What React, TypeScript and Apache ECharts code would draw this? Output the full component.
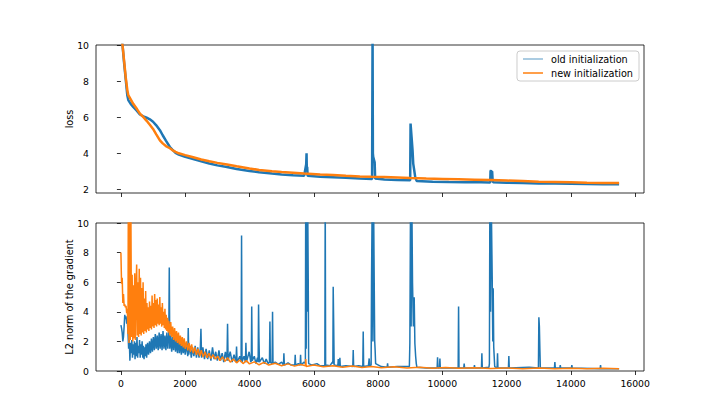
import React, { useEffect, useRef } from "react";
import * as echarts from "echarts";

// ---- data ----
const xTicks = [0, 2000, 4000, 6000, 8000, 10000, 12000, 14000, 16000];
const lossTicks = [2, 4, 6, 8, 10];
const gradTicks = [0, 2, 4, 6, 8, 10];

const lossOld = [
  [0, 10.9], [50, 10.0], [100, 9.0], [150, 8.1], [200, 7.2], [230, 6.95], [300, 6.75], [383, 6.57],
  [500, 6.35], [591, 6.15], [700, 6.05], [800, 5.97], [900, 5.88], [1000, 5.75], [1100, 5.55],
  [1213, 5.28], [1300, 5.0], [1400, 4.7], [1524, 4.35], [1600, 4.2], [1700, 4.02], [1800, 3.93],
  [2000, 3.8], [2250, 3.68], [2500, 3.55], [2750, 3.43], [3000, 3.33], [3300, 3.24], [3600, 3.13],
  [4000, 3.02], [4300, 2.95], [4700, 2.88], [5000, 2.83], [5355, 2.78], [5700, 2.75], [5765, 3.4],
  [5776, 4.0], [5785, 3.0], [5795, 3.25], [5810, 2.75], [6200, 2.7], [6600, 2.67], [7000, 2.64],
  [7435, 2.6], [7815, 2.58], [7830, 10.8], [7840, 4.0], [7850, 3.8], [7880, 3.6], [7895, 3.5],
  [7910, 2.6], [8200, 2.55], [8600, 2.52], [9000, 2.5], [9012, 5.65], [9043, 4.91], [9074, 4.17],
  [9095, 3.43], [9126, 3.06], [9157, 2.68], [9200, 2.47], [9700, 2.43], [10200, 2.41], [10700, 2.4],
  [11200, 2.39], [11490, 2.38], [11500, 3.0], [11515, 3.06], [11530, 2.95], [11550, 3.0], [11565, 2.5],
  [11580, 2.4], [12000, 2.37], [12500, 2.35], [13000, 2.33], [13500, 2.32], [14000, 2.31],
  [14500, 2.3], [15000, 2.29], [15500, 2.28],
];

const lossNew = [
  [0, 10.7], [50, 10.0], [100, 9.1], [150, 8.2], [200, 7.5], [230, 7.22], [300, 7.0], [383, 6.74],
  [500, 6.45], [591, 6.2], [700, 6.0], [800, 5.8], [900, 5.58], [1000, 5.35], [1100, 5.05],
  [1213, 4.72], [1300, 4.55], [1400, 4.4], [1524, 4.28], [1600, 4.18], [1700, 4.08], [1800, 4.0],
  [2000, 3.9], [2250, 3.78], [2500, 3.66], [2750, 3.56], [3000, 3.47], [3300, 3.38], [3600, 3.28],
  [4000, 3.16], [4300, 3.08], [4700, 3.0], [5000, 2.96], [5355, 2.92], [5700, 2.88], [6200, 2.83],
  [6600, 2.8], [7000, 2.76], [7435, 2.72], [7800, 2.7], [8200, 2.68], [8600, 2.66], [9000, 2.63],
  [9500, 2.6], [10000, 2.58], [10500, 2.56], [11000, 2.54], [11500, 2.52], [12000, 2.49],
  [12500, 2.46], [13000, 2.43], [13500, 2.41], [14000, 2.39], [14500, 2.37], [15000, 2.36],
  [15500, 2.35],
];

const gradOld = [
  [0, 3.1], [20, 2.9], [40, 2.6], [60, 2.0], [80, 2.3], [100, 3.0], [120, 3.8], [140, 3.5],
  [160, 3.7], [180, 3.2], [200, 3.4], [220, 2.6], [240, 1.5], [260, 2.2], [280, 0.7], [300, 1.9],
  [320, 1.2], [340, 2.1], [360, 0.9], [380, 1.8], [400, 1.1], [420, 2.0], [440, 0.8], [460, 1.9],
  [480, 1.0], [500, 2.3], [520, 0.9], [540, 1.7], [560, 1.2], [580, 2.1], [600, 0.9], [620, 1.8],
  [640, 1.1], [660, 2.0], [680, 0.9], [700, 1.7], [720, 0.8], [740, 1.6], [760, 1.0], [780, 1.8],
  [800, 0.9], [830, 1.9], [860, 1.1], [890, 2.0], [920, 1.2], [950, 2.2], [980, 1.3], [1010, 2.3],
  [1040, 1.4], [1070, 2.5], [1100, 1.5], [1130, 2.4], [1160, 1.4], [1190, 2.6], [1220, 1.5],
  [1250, 2.5], [1280, 1.4], [1310, 2.7], [1340, 1.5], [1370, 2.4], [1400, 1.4], [1430, 2.6],
  [1460, 1.5], [1490, 2.5], [1505, 7.0], [1520, 1.5], [1550, 2.4], [1580, 1.3], [1610, 2.3],
  [1640, 1.4], [1670, 2.5], [1700, 1.3], [1730, 2.2], [1760, 1.2], [1790, 2.3], [1820, 1.2],
  [1850, 2.1], [1880, 1.1], [1910, 2.0], [1940, 1.2], [1970, 1.9], [2000, 1.1], [2040, 1.8],
  [2080, 1.0], [2095, 2.9], [2110, 1.1], [2150, 1.7], [2190, 0.9], [2230, 1.6], [2270, 1.0],
  [2310, 1.7], [2350, 0.9], [2390, 1.6], [2430, 0.9], [2470, 1.5], [2490, 2.85], [2510, 0.9],
  [2550, 1.6], [2600, 0.8], [2650, 1.5], [2700, 0.8], [2750, 1.4], [2800, 0.7], [2850, 1.6],
  [2900, 0.8], [2950, 1.3], [3000, 0.7], [3050, 1.4], [3100, 0.7], [3150, 1.2], [3200, 0.6],
  [3250, 1.3], [3300, 0.7], [3318, 3.2], [3335, 0.7], [3400, 1.3], [3460, 0.6], [3520, 1.1],
  [3580, 0.6], [3598, 1.65], [3615, 0.6], [3700, 1.0], [3740, 0.6], [3754, 9.15], [3768, 0.6],
  [3830, 1.0], [3875, 0.6], [3889, 1.9], [3905, 0.6], [3990, 1.3], [4040, 0.6], [4058, 0.7],
  [4070, 4.35], [4085, 0.7], [4150, 1.0], [4200, 0.5], [4250, 0.9], [4270, 0.6], [4283, 4.5],
  [4295, 2.25], [4310, 0.6], [4400, 0.9], [4460, 0.5], [4520, 0.8], [4580, 0.5], [4622, 0.6],
  [4636, 3.35], [4650, 0.6], [4704, 0.5], [4718, 4.0], [4732, 0.5], [4800, 0.6], [4900, 0.45],
  [5000, 0.6], [5058, 0.4], [5071, 1.2], [5085, 0.4], [5200, 0.55], [5300, 0.4], [5410, 0.4],
  [5423, 1.1], [5436, 0.4], [5520, 0.5], [5577, 0.4], [5590, 1.1], [5603, 0.4], [5700, 0.6],
  [5740, 0.5], [5750, 12], [5765, 1.5], [5780, 12], [5800, 4.0], [5810, 12], [5827, 6.6],
  [5842, 0.5], [5950, 0.4], [6100, 0.5], [6200, 0.35], [6345, 0.35], [6357, 12], [6369, 0.4],
  [6500, 0.35], [6580, 0.6], [6595, 0.5], [6605, 5.7], [6620, 3.1], [6635, 0.4], [6750, 0.35],
  [6762, 0.8], [6775, 0.35], [6800, 0.35], [6813, 0.9], [6826, 0.3], [7000, 0.35], [7215, 0.3],
  [7228, 1.42], [7241, 0.3], [7400, 0.35], [7526, 0.3], [7539, 2.66], [7552, 0.3], [7700, 0.35],
  [7712, 0.35], [7725, 0.85], [7738, 0.35], [7785, 0.4], [7798, 6.26], [7820, 12], [7840, 2.0],
  [7860, 12], [7880, 12], [7895, 2.1], [7910, 1.4], [7925, 0.5], [8100, 0.3], [8284, 0.25],
  [8297, 0.52], [8310, 0.25], [8600, 0.3], [8975, 0.3], [8990, 1.87], [9012, 12], [9030, 3.0],
  [9050, 12], [9063, 12], [9073, 5.97], [9100, 3.0], [9125, 4.98], [9146, 1.87], [9170, 1.0],
  [9190, 0.5], [9210, 0.25], [9500, 0.2], [9839, 0.2], [9852, 0.92], [9865, 0.2], [9912, 0.2],
  [9925, 0.85], [9938, 0.2], [10200, 0.2], [10493, 0.2], [10506, 4.35], [10519, 0.2], [10667, 0.2],
  [10680, 0.5], [10693, 0.2], [10987, 0.2], [11000, 0.4], [11013, 0.2], [11218, 0.2], [11231, 1.19],
  [11244, 0.2], [11450, 0.25], [11465, 0.5], [11480, 12], [11500, 4.0], [11520, 12], [11532, 12],
  [11552, 6.37], [11570, 2.0], [11583, 5.59], [11600, 1.6], [11615, 1.6], [11630, 0.3],
  [11705, 0.2], [11718, 1.19], [11731, 0.2], [12057, 0.2], [12070, 1.01], [12083, 0.2],
  [12700, 0.25], [12990, 0.2], [13004, 3.63], [13020, 3.0], [13035, 1.5], [13050, 0.2],
  [13489, 0.2], [13502, 0.6], [13515, 0.2], [13657, 0.2], [13670, 0.4], [13683, 0.2], [14017, 0.2],
  [14030, 0.4], [14043, 0.2], [14910, 0.15], [14923, 0.4], [14936, 0.15], [15500, 0.15],
];

const gradNew = [
  [0, 8.0], [20, 5.9], [40, 6.3], [60, 4.6], [80, 5.2], [100, 4.4], [120, 4.5], [140, 4.3],
  [160, 4.4], [180, 3.9], [200, 4.2], [220, 2.5], [230, 11], [250, 1.9], [270, 12], [290, 2.1],
  [310, 11], [330, 2.3], [350, 6.5], [370, 2.0], [390, 5.8], [410, 2.2], [430, 6.6], [450, 2.1],
  [470, 5.5], [490, 7.2], [510, 2.4], [530, 6.0], [550, 2.3], [570, 6.9], [590, 2.5], [610, 6.3],
  [630, 2.4], [650, 5.6], [670, 2.6], [690, 6.0], [710, 2.5], [730, 4.9], [750, 2.7], [770, 5.4],
  [790, 2.6], [810, 4.6], [830, 2.8], [850, 4.3], [870, 2.7], [890, 4.7], [910, 2.9], [930, 4.4],
  [950, 2.8], [970, 5.1], [990, 3.0], [1010, 4.6], [1030, 2.9], [1050, 5.2], [1070, 3.1],
  [1090, 4.8], [1110, 3.0], [1130, 4.9], [1150, 3.2], [1170, 4.5], [1190, 3.1], [1210, 5.0],
  [1230, 3.2], [1250, 4.3], [1270, 3.0], [1290, 4.6], [1310, 3.1], [1330, 4.0], [1350, 2.9],
  [1370, 4.2], [1390, 2.8], [1410, 3.8], [1430, 2.7], [1450, 3.6], [1470, 2.6], [1490, 3.4],
  [1520, 2.4], [1550, 3.3], [1580, 2.3], [1610, 3.0], [1640, 2.1], [1670, 2.9], [1700, 2.0],
  [1730, 2.7], [1760, 1.9], [1790, 2.6], [1820, 1.8], [1850, 2.4], [1880, 1.7], [1910, 2.3],
  [1940, 1.6], [1970, 2.2], [2000, 1.5], [2040, 2.0], [2080, 1.4], [2120, 1.9], [2160, 1.3],
  [2200, 1.8], [2250, 1.2], [2300, 1.6], [2350, 1.1], [2400, 1.5], [2450, 1.0], [2500, 1.4],
  [2560, 0.95], [2620, 1.3], [2680, 0.9], [2740, 1.2], [2800, 0.85], [2870, 1.1], [2940, 0.8],
  [3010, 1.0], [3080, 0.7], [3160, 0.95], [3240, 0.65], [3320, 0.9], [3400, 0.6], [3500, 0.8],
  [3600, 0.55], [3700, 0.75], [3800, 0.5], [3900, 0.7], [4000, 0.48], [4150, 0.62], [4300, 0.42],
  [4450, 0.58], [4600, 0.4], [4800, 0.52], [5000, 0.36], [5200, 0.48], [5400, 0.33], [5600, 0.44],
  [5740, 0.35], [5750, 0.8], [5765, 0.3], [6000, 0.4], [6300, 0.28], [6600, 0.36], [6900, 0.26],
  [7200, 0.33], [7500, 0.24], [7800, 0.31], [8100, 0.22], [8500, 0.28], [8900, 0.2], [9300, 0.26],
  [9700, 0.19], [10100, 0.24], [10500, 0.18], [11000, 0.22], [11500, 0.17], [12000, 0.21],
  [12500, 0.16], [13000, 0.2], [13500, 0.15], [14000, 0.19], [14500, 0.15], [15000, 0.18],
  [15500, 0.15],
];

const BLUE = "#1f77b4";
const ORANGE = "#ff7f0e";
const FONT = "DejaVu Sans";

export default function App() {
  const ref = useRef<HTMLDivElement>(null);
  useEffect(() => {
    const chart = echarts.init(ref.current!, null, { renderer: "svg" });
    const xAxisBase = (gi: number, labels: boolean) => ({
      type: "value",
      gridIndex: gi,
      min: -775,
      max: 16275,
      axisLine: { show: false },
      splitLine: { show: false },
      axisTick: { show: true, length: 4, customValues: xTicks, lineStyle: { color: "#000", width: 0.8 } },
      axisLabel: {
        show: labels,
        customValues: xTicks,
        formatter: (v: number) => String(v),
        fontSize: 9.3,
        fontFamily: FONT,
        color: "#000",
        margin: 8,
      },
    });
    const yAxisBase = (gi: number, min: number, ticks: number[], name: string) => ({
      type: "value",
      gridIndex: gi,
      min,
      max: 10,
      name,
      nameLocation: "middle",
      nameGap: 22,
      nameMoveOverlap: false,
      nameTextStyle: { fontSize: 9.7, fontFamily: FONT, color: "#000" },
      axisLine: { show: false },
      splitLine: { show: false },
      axisTick: { show: true, length: 4, customValues: ticks, lineStyle: { color: "#000", width: 0.8 } },
      axisLabel: {
        customValues: ticks,
        formatter: (v: number) => String(v),
        fontSize: 9.3,
        fontFamily: FONT,
        color: "#000",
        margin: 7,
      },
    });
    const line = (name: string, data: number[][], color: string, gi: number, width: number) => ({
      type: "line",
      name,
      data,
      xAxisIndex: gi,
      yAxisIndex: gi,
      symbol: "none",
      showSymbol: false,
      clip: true,
      lineStyle: { color, width },
      itemStyle: { color },
      emphasis: { disabled: true },
    });
    chart.setOption({
      animation: false,
      backgroundColor: "#fff",
      grid: [
        { left: 96, top: 45, width: 548, height: 148, show: true, borderColor: "#000", borderWidth: 0.8, backgroundColor: "transparent" },
        { left: 96, top: 223, width: 548, height: 148, show: true, borderColor: "#000", borderWidth: 0.8, backgroundColor: "transparent" },
      ],
      xAxis: [xAxisBase(0, false), xAxisBase(1, true)],
      yAxis: [
        yAxisBase(0, 1.8, lossTicks, "loss"),
        yAxisBase(1, 0, gradTicks, "L2 norm of the gradient"),
      ],
      legend: {
        right: 81,
        top: 51,
        orient: "vertical",
        itemWidth: 20,
        itemHeight: 1.5,
        itemGap: 4,
        padding: [3, 6, 3, 6],
        backgroundColor: "rgba(255,255,255,0.8)",
        borderColor: "#cccccc",
        borderWidth: 1,
        borderRadius: 3,
        textStyle: { fontSize: 9.7, fontFamily: FONT, color: "#000", padding: [0, 0, 0, 3], lineHeight: 10 },
        data: [
          { name: "old initialization", icon: "rect", itemStyle: { color: "rgba(31,119,180,0.5)", borderWidth: 0 } },
          { name: "new initialization", icon: "rect", itemStyle: { color: ORANGE, borderWidth: 0 } },
        ],
      },
      series: [
        line("old initialization", lossOld, BLUE, 0, 2.5),
        line("new initialization", lossNew, ORANGE, 0, 2.5),
        line("old grad", gradOld, BLUE, 1, 1.5),
        line("new grad", gradNew, ORANGE, 1, 1.5),
      ],
    });
    return () => chart.dispose();
  }, []);
  return <div ref={ref} style={{ position: "fixed", left: 0, top: 0, width: 720, height: 410 }} />;
}
